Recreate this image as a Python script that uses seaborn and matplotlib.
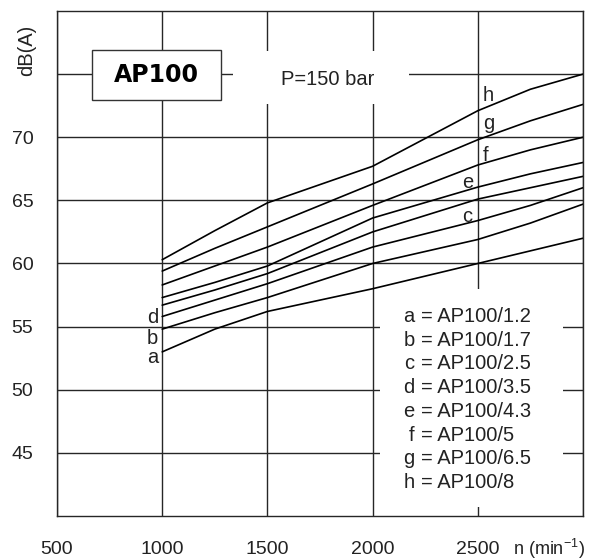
import numpy as np
import pandas as pd
import matplotlib
matplotlib.use('Agg')
import matplotlib.pyplot as plt
from matplotlib.patches import Rectangle
import seaborn as sns

# noise level dB(A) vs speed n, P=150 bar
rpm = [1000, 1250, 1500, 2000, 2500, 2750, 3000]
a = [53.0, 54.8, 56.2, 58.0, 60.0, 61.0, 62.0]
b = [54.8, 56.1, 57.3, 60.0, 61.9, 63.2, 64.7]
c = [55.8, 57.1, 58.4, 61.3, 63.4, 64.6, 66.0]
d = [56.7, 57.9, 59.2, 62.5, 65.1, 66.0, 66.9]
e = [57.3, 58.5, 59.8, 63.6, 66.05, 67.1, 68.0]
f = [58.3, 59.8, 61.3, 64.6, 67.8, 69.0, 70.0]
g = [59.4, 61.2, 62.9, 66.3, 69.8, 71.3, 72.6]
h = [60.3, 62.6, 64.8, 67.7, 72.1, 73.8, 75.0]

letters = ['a', 'b', 'c', 'd', 'e', 'f', 'g', 'h']
models = ['AP100/1.2', 'AP100/1.7', 'AP100/2.5', 'AP100/3.5',
          'AP100/4.3', 'AP100/5', 'AP100/6.5', 'AP100/8']
xticks = [500, 1000, 1500, 2000, 2500, 3000]
xticklabels = ['500', '1000', '1500', '2000', '2500', '']
yticks = [45, 50, 55, 60, 65, 70, 75]
yticklabels = ['45', '50', '55', '60', '65', '70', '']

series = [a, b, c, d, e, f, g, h]
df = pd.concat([pd.DataFrame({'rpm': rpm, 'dB': v, 'pump': l})
                for l, v in zip(letters, series)], ignore_index=True)

sns.set_style('white')
plt.rcParams['font.family'] = ['Liberation Sans', 'DejaVu Sans']
txt = '#222222'

fig = plt.figure(figsize=(5.92, 5.6), dpi=100)
ax = fig.add_axes([0.0963, 0.0786, 0.8885, 0.9018])

sns.lineplot(data=df, x='rpm', y='dB', units='pump', estimator=None,
             color='black', lw=1.2, legend=False, ax=ax, zorder=2)

ax.set_xlim(500, 3000)
ax.set_ylim(40, 80)
ax.set_xticks(xticks)
ax.set_xticklabels(xticklabels)
ax.set_yticks(yticks)
ax.set_yticklabels(yticklabels)
ax.tick_params(axis='x', length=0, pad=18, labelsize=14, labelcolor=txt)
ax.tick_params(axis='y', length=0, pad=17, labelsize=14, labelcolor=txt)
ax.set_xlabel('')
ax.set_ylabel('')
ax.set_axisbelow(True)
ax.grid(True, color='0.15', lw=1.0)
for s in ax.spines.values():
    s.set_color('0.15')
    s.set_linewidth(1.0)

# white gaps in the grid behind the texts
ax.add_patch(Rectangle((1336, 72.62), 837, 4.21, facecolor='white',
                       edgecolor='none', zorder=1))
ax.add_patch(Rectangle((2035, 40.71), 870, 17.23, facecolor='white',
                       edgecolor='none', zorder=1))
# AP100 box
ax.add_patch(Rectangle((665, 72.96), 614, 3.97, facecolor='white',
                       edgecolor='0.2', lw=1.0, zorder=1.5))
ax.text(972, 74.95, 'AP100', fontsize=17, fontweight='bold',
        family='DejaVu Sans', ha='center', va='center', color='black', zorder=3)
ax.text(1788, 74.6, 'P=150 bar', fontsize=14.5, ha='center', va='center',
        color=txt, zorder=3)

# curve labels
ax.text(980, 55.29, 'd', fontsize=14.5, ha='right', va='baseline', color=txt)
ax.text(980, 53.65, 'b', fontsize=14.5, ha='right', va='baseline', color=txt)
ax.text(980, 52.12, 'a', fontsize=14.5, ha='right', va='baseline', color=txt)
ax.text(2525, 72.9, 'h', fontsize=14.5, ha='left', va='baseline', color=txt)
ax.text(2525, 70.63, 'g', fontsize=14.5, ha='left', va='baseline', color=txt)
ax.text(2525, 68.1, 'f', fontsize=14.5, ha='left', va='baseline', color=txt)
ax.text(2477, 66.0, 'e', fontsize=14.5, ha='right', va='baseline', color=txt)
ax.text(2472, 63.28, 'c', fontsize=14.5, ha='right', va='baseline', color=txt)

# key of the letters
for i, (l, m) in enumerate(zip(letters, models)):
    yy = 55.37 - i * 1.881
    ax.text(2200, yy, l, fontsize=14.5, ha='right', va='baseline', color=txt, zorder=3)
    ax.text(2230, yy, '= ' + m, fontsize=14.5, ha='left', va='baseline', color=txt, zorder=3)

ax.text(357, 76.9, 'dB(A)', fontsize=14.5, rotation=90, ha='center', va='center',
        color=txt, clip_on=False)
ax.text(2667, 37.4, 'n (min$\\mathregular{^{-1}}$)', fontsize=13, ha='left', va='center',
        color=txt, clip_on=False)

fig.savefig('out.png', dpi=100)
